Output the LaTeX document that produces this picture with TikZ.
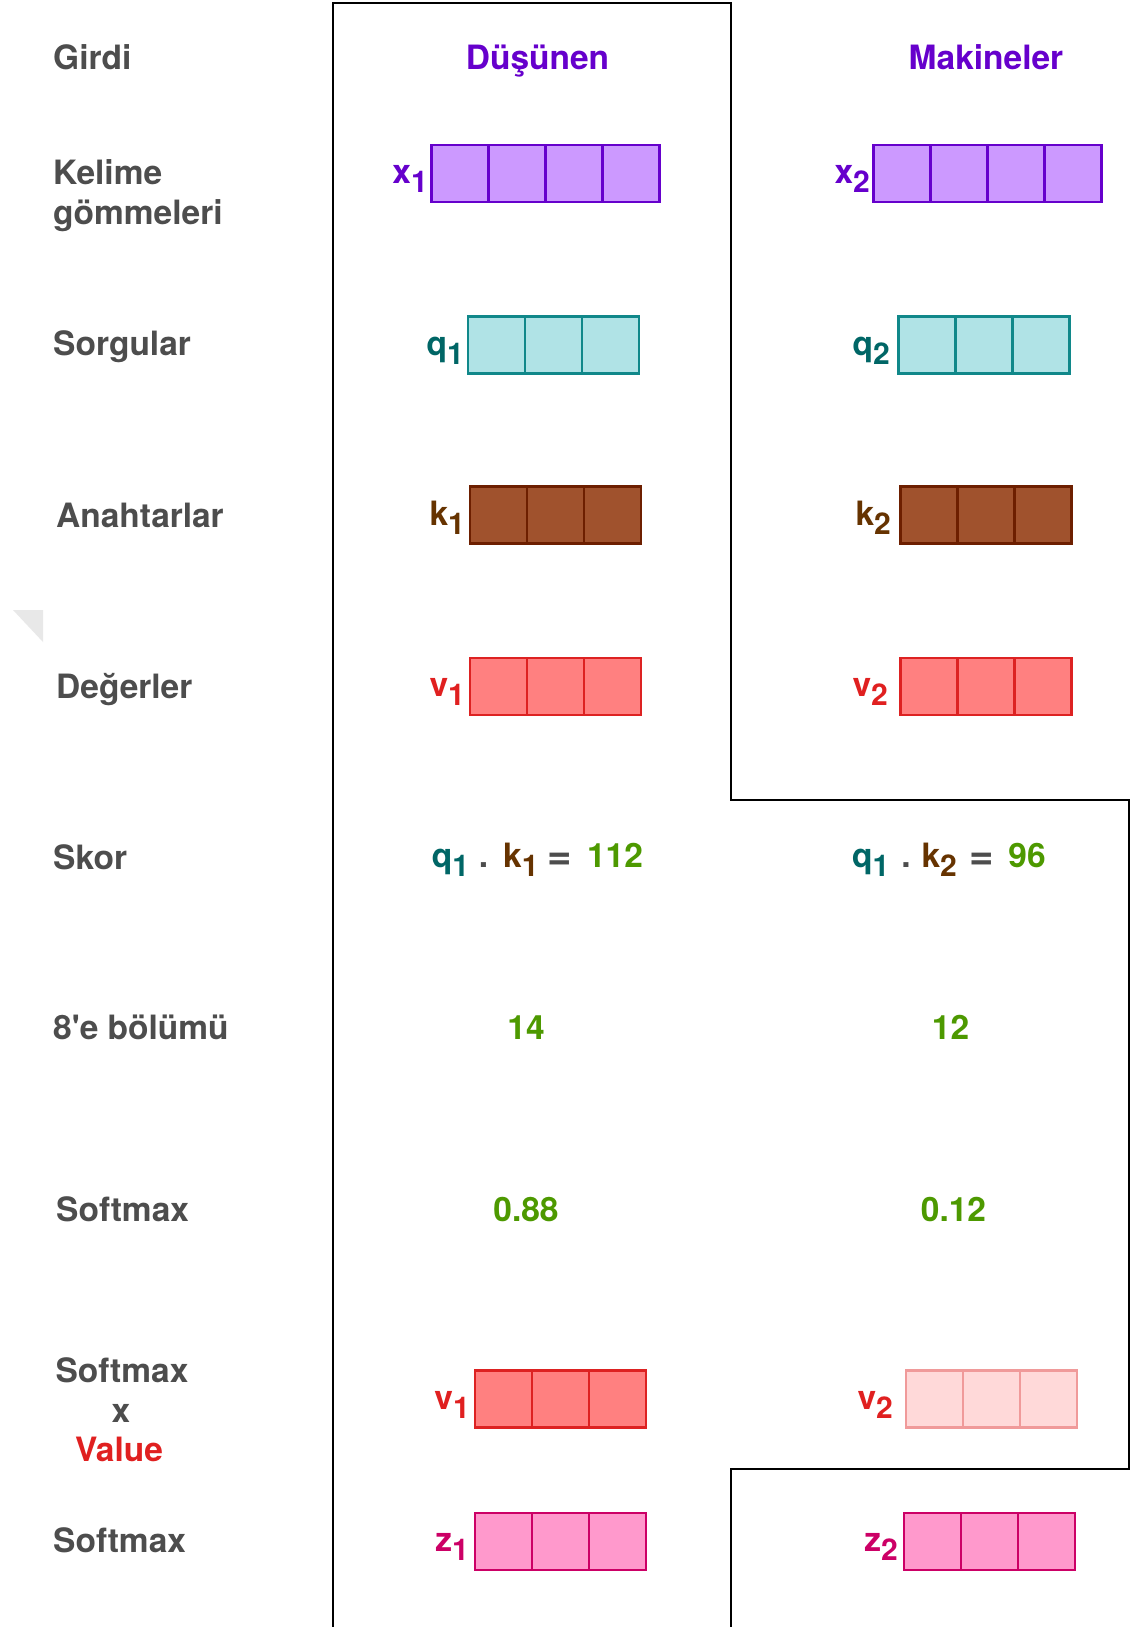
\documentclass[tikz,border=0pt]{standalone}
\usepackage{fontspec}
\setmainfont{TeX Gyre Heros}[Ligatures=TeXOff]
\definecolor{lgray}{HTML}{4D4D4D}
\definecolor{purp}{HTML}{6600CC}
\definecolor{purpfill}{HTML}{CC99FF}
\definecolor{tealtxt}{HTML}{006666}
\definecolor{tealfill}{HTML}{B0E3E6}
\definecolor{tealdraw}{HTML}{10888A}
\definecolor{browntxt}{HTML}{663300}
\definecolor{brownfill}{HTML}{A0522D}
\definecolor{browndraw}{HTML}{6D1F00}
\definecolor{redtxt}{HTML}{E02020}
\definecolor{redfill}{HTML}{FF8080}
\definecolor{reddraw}{HTML}{DD2222}
\definecolor{fadefill}{HTML}{FFD9D9}
\definecolor{fadedraw}{HTML}{F09A9A}
\definecolor{magtxt}{HTML}{CC0066}
\definecolor{magfill}{HTML}{FF99CC}
\definecolor{grn}{HTML}{4D9900}
\newcommand\lblfont{\fontsize{33.5}{40}\selectfont\bfseries}
\newcommand\subs[1]{\raisebox{-9pt}{\fontsize{30}{32}\selectfont #1}}
\newcommand\vrow[6]{\foreach \i in {1,...,#4}{\node[cell,fill=#5,draw=#6] (#1-\i) at ({#2+28.5+57*(\i-1)},#3) {};}}
\begin{document}
\begin{tikzpicture}[x=1pt,y=-1pt,
  cell/.style={minimum width=57pt,minimum height=57pt,inner sep=0pt,outer sep=0pt,line width=2.5pt},
  rowlbl/.style={font=\lblfont,text=lgray,anchor=base west,inner sep=0pt},
  head/.style={font=\lblfont,text=purp,anchor=base,inner sep=0pt},
  vlab/.style={font=\lblfont,anchor=base east,inner sep=0pt},
  num/.style={font=\lblfont,text=grn,anchor=base,inner sep=0pt},
  op/.style={font=\lblfont,text=lgray,anchor=base,inner sep=0pt}]
\useasboundingbox (0,0) rectangle (1131,1627);
\fill[white] (0,0) rectangle (1131,1627);
% faint artifact
\fill[gray!18] (13,610) -- (43,610) -- (43,642) -- cycle;
% outline
\draw[line width=2pt,line join=miter] (333,1630) -- (333,3) -- (731,3) -- (731,800) -- (1129,800) -- (1129,1469) -- (731,1469) -- (731,1630);
% row labels
\node[rowlbl] (girdi) at (53,70) {Girdi};
\node[rowlbl] (kel) at (53,184) {Kelime};
\node[rowlbl] (gom) at (53,224) {gömmeleri};
\node[rowlbl] (sorg) at (53,355) {Sorgular};
\node[rowlbl] (anah) at (56,527) {Anahtarlar};
\node[rowlbl] (deg) at (56,698) {Değerler};
\node[rowlbl] (skor) at (53,869) {Skor};
\node[rowlbl] (bol) at (53,1039) {8'e bölümü};
\node[rowlbl] (soft) at (56,1221) {Softmax};
\node[font=\lblfont,text=lgray,anchor=base,inner sep=0pt] (smx1) at (122,1382) {Softmax};
\node[font=\lblfont,text=lgray,anchor=base,inner sep=0pt] (smx2) at (121,1422) {x};
\node[font=\lblfont,text=redtxt,anchor=base,inner sep=0pt] (smx3) at (119,1461) {Value};
\node[rowlbl] (soft2) at (53,1552) {Softmax};
% headers
\node[head] (h1) at (537.5,70) {Düşünen};
\node[head] (h2) at (986,70) {Makineler};
% vectors column 1
\vrow{xa}{431.6}{173.5}{4}{purpfill}{purp}
\node[vlab,text=purp] (xal) at (428,183.5) {x\subs{1}};
\vrow{qa}{468}{345}{3}{tealfill}{tealdraw}
\node[vlab,text=tealtxt] (qal) at (464,355) {q\subs{1}};
\vrow{ka}{470}{515}{3}{brownfill}{browndraw}
\node[vlab,text=browntxt] (kal) at (465,525) {k\subs{1}};
\vrow{va}{470}{686.5}{3}{redfill}{reddraw}
\node[vlab,text=redtxt] (val) at (465,696.5) {v\subs{1}};
\vrow{wa}{475}{1399}{3}{redfill}{reddraw}
\node[vlab,text=redtxt] (wal) at (470,1409) {v\subs{1}};
\vrow{za}{475}{1541.5}{3}{magfill}{magtxt}
\node[vlab,text=magtxt] (zal) at (469,1551.5) {z\subs{1}};
% vectors column 2
\vrow{xb}{873.6}{173.5}{4}{purpfill}{purp}
\node[vlab,text=purp] (xbl) at (870,183.5) {x\subs{2}};
\vrow{qb}{898.5}{345}{3}{tealfill}{tealdraw}
\node[vlab,text=tealtxt] (qbl) at (890,355) {q\subs{2}};
\vrow{kb}{900.6}{515}{3}{brownfill}{browndraw}
\node[vlab,text=browntxt] (kbl) at (891,525) {k\subs{2}};
\vrow{vb}{900.6}{686.5}{3}{redfill}{reddraw}
\node[vlab,text=redtxt] (vbl) at (888,696.5) {v\subs{2}};
\vrow{wb}{906}{1399}{3}{fadefill}{fadedraw}
\node[vlab,text=redtxt] (wbl) at (893,1409) {v\subs{2}};
\vrow{zb}{904}{1541.5}{3}{magfill}{magtxt}
\node[vlab,text=magtxt] (zbl) at (898,1551.5) {z\subs{2}};
% score row
\node[font=\lblfont,text=tealtxt,anchor=base west,inner sep=0pt] (s1q) at (431.6,867) {q\subs{1}};
\node[op] (s1d) at (483.5,867) {.};
\node[font=\lblfont,text=browntxt,anchor=base west,inner sep=0pt] (s1k) at (503,867) {k\subs{1}};
\node[op,scale=1.25] (s1e) at (560,869) {=};
\node[num] (s1n) at (615,867) {112};
\node[font=\lblfont,text=tealtxt,anchor=base west,inner sep=0pt] (s2q) at (852,867) {q\subs{1}};
\node[op] (s2d) at (906,867) {.};
\node[font=\lblfont,text=browntxt,anchor=base west,inner sep=0pt] (s2k) at (921.4,867) {k\subs{2}};
\node[op,scale=1.25] (s2e) at (981.6,869) {=};
\node[num] (s2n) at (1027,867) {96};
% numbers
\node[num] (d1) at (526,1039) {14};
\node[num] (d2) at (950.5,1039) {12};
\node[num] (p1) at (526,1221) {0.88};
\node[num] (p2) at (953.5,1221) {0.12};
\end{tikzpicture}
\end{document}
